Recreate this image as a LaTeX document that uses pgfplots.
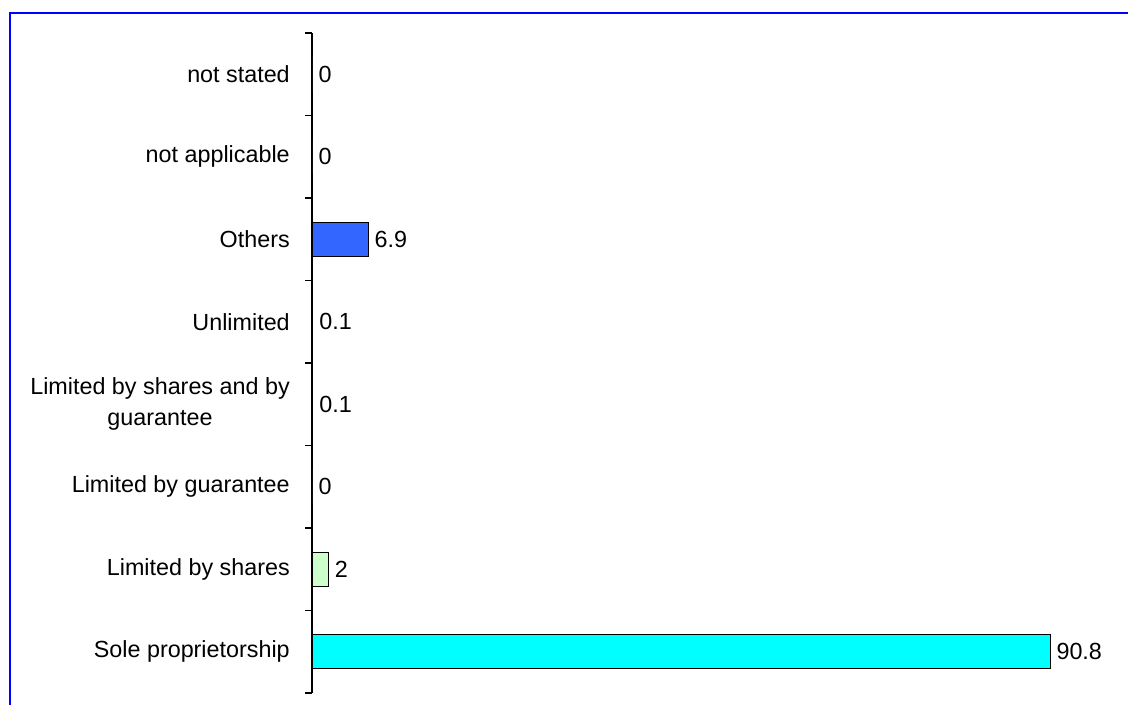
\documentclass[border=0pt]{standalone}
\usepackage{fontspec}
\setmainfont{Liberation Sans}
\usepackage{pgfplots}
\pgfplotsset{compat=1.18}
\definecolor{barcyan}{RGB}{0,255,255}
\definecolor{bargreen}{RGB}{204,255,204}
\definecolor{barblue}{RGB}{51,102,255}
\definecolor{frameblue}{RGB}{0,0,255}
\begin{document}
\fontsize{17.5}{23.5}\selectfont
\begin{tikzpicture}
\useasboundingbox (0,0) rectangle (846pt,528pt);
% outer chart frame (cut off on the right and at the bottom)
\draw[frameblue, line width=2pt] (7.5pt,-2pt) -- (7.5pt,518.25pt) -- (848pt,518.25pt);
\begin{axis}[
    at={(234pt,8.25pt)}, anchor=south west,
    scale only axis, width=609.6pt, height=495pt,
    xmin=0, xmax=100, ymin=-0.5, ymax=7.5,
    axis x line=none, axis y line=left,
    axis line style={-, line width=0.9pt, black},
    xbar, bar shift=0pt, bar width=25.5pt,
    ytick={0,...,7},
    yticklabels={Sole proprietorship, Limited by shares, Limited by guarantee,
        {Limited by shares and by\\guarantee}, Unlimited, Others, not applicable, not stated},
    major tick length=0pt,
    minor ytick={-0.5,0.5,...,7.5}, minor tick length=5.25pt, tick align=outside,
    minor tick style={black, line width=0.9pt},
    yticklabel style={align=center, inner sep=0pt, xshift=-16.5pt,
        font=\fontsize{17.5}{23.5}\selectfont},
    nodes near coords, point meta=explicit symbolic,
    every node near coord/.style={anchor=west, xshift=4.5pt, inner sep=0pt,
        font=\fontsize{17.5}{23.5}\selectfont, black},
    every axis plot/.append style={draw=black, line width=0.75pt},
    clip=false,
]
\addplot[fill=barcyan] coordinates {(90.8,0) [90.8]};
\addplot[fill=bargreen] coordinates {(2,1) [2]};
\addplot[fill=white] coordinates {(0,2) [0]};
\addplot[fill=white] coordinates {(0.1,3) [0.1]};
\addplot[fill=white] coordinates {(0.1,4) [0.1]};
\addplot[fill=barblue] coordinates {(6.9,5) [6.9]};
\addplot[fill=white] coordinates {(0,6) [0]};
\addplot[fill=white] coordinates {(0,7) [0]};
\end{axis}
\end{tikzpicture}
\end{document}
